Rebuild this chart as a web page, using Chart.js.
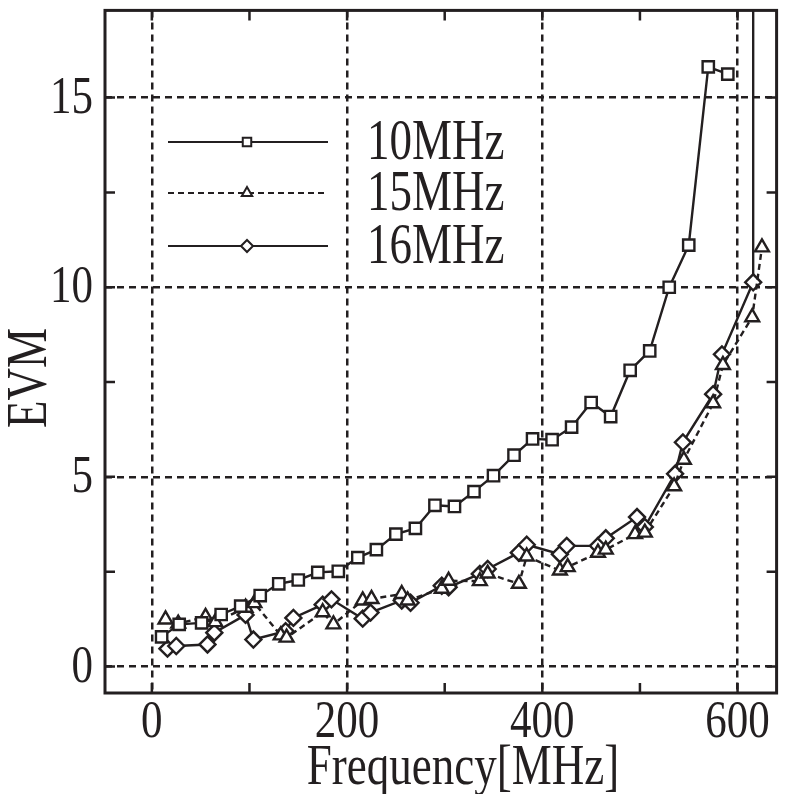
<!DOCTYPE html>
<html>
<head>
<meta charset="utf-8">
<script src="https://cdn.jsdelivr.net/npm/chart.js@4"></script>
<style>
  html, body { margin: 0; padding: 0; background: #fff; }
  #wrap { width: 787px; height: 794px; }
</style>
</head>
<body>
<div id="wrap"><canvas id="chart" width="787" height="794"></canvas></div>
<script>
// ── Data ────────────────────────────────────────────────────────────────────
const freq10 = [10, 28, 51, 71, 91, 111, 130, 150, 170, 191, 211, 230, 250, 270, 290,
                310, 330, 350, 371, 390, 410, 430, 450, 470, 490, 510, 530, 550, 570, 590];
const evm10  = [0.78, 1.11, 1.15, 1.37, 1.59, 1.87, 2.18, 2.28, 2.48, 2.51, 2.87, 3.08, 3.49, 3.64, 4.25,
                4.22, 4.61, 5.03, 5.57, 6.00, 5.98, 6.31, 6.96, 6.59, 7.81, 8.32, 10.0, 11.11, 15.81, 15.62];

const freq15 = [14, 27, 55, 65, 96, 105, 132, 138, 175, 186, 216, 225, 256, 262, 297, 304,
                336, 344, 376, 384, 418, 426, 457, 465, 495, 505, 535, 545, 575, 585, 615, 625];
const evm15  = [1.24, 1.13, 1.31, 1.17, 1.55, 1.67, 0.82, 0.76, 1.43, 1.11, 1.74, 1.78, 1.91, 1.74, 2.05, 2.26,
                2.25, 2.45, 2.18, 2.90, 2.53, 2.62, 3.00, 3.08, 3.49, 3.53, 4.75, 5.45, 6.94, 7.95, 9.21, 11.05];

// last 16MHz point runs off the top of the plot
const freq16 = [16, 25, 57, 64, 96, 104, 137, 145, 175, 184, 216, 224, 256, 265, 297, 304,
                336, 344, 376, 384, 418, 425, 457, 465, 497, 505, 536, 544, 575, 584, 616, 616];
const evm16  = [0.47, 0.54, 0.58, 0.89, 1.36, 0.71, 0.93, 1.28, 1.63, 1.77, 1.26, 1.42, 1.74, 1.68, 2.13, 2.09,
                2.44, 2.57, 3.00, 3.21, 2.96, 3.18, 3.18, 3.38, 3.94, 3.68, 5.08, 5.91, 7.18, 8.23, 10.13, 30];

const seriesNames = ['10MHz', '15MHz', '16MHz'];
const xTitle = 'Frequency[MHz]';
const yTitle = 'EVM';
const xMajor = 200, yMajor = 5;

const INK = '#231f20';
const FONT = '"Liberation Serif", "Times New Roman", serif';
const STRETCH = 1.25;   // the figure's lettering is taller than it is wide

function pts(xs, ys) { return xs.map((x, i) => ({ x, y: ys[i] })); }

function series(label, data, style, dash) {
  return {
    label, data,
    borderColor: INK, borderWidth: 2.4, borderDash: dash,
    pointStyle: style, pointRadius: 8, pointBorderWidth: 2.4,
    pointBackgroundColor: '#fff', pointBorderColor: INK,
    tension: 0, clip: 0,
  };
}

function tallText(ctx, txt, x, y, align, size, rot) {
  ctx.save();
  ctx.translate(x, y);
  if (rot) ctx.rotate(rot);
  ctx.scale(1, STRETCH);
  ctx.font = size + 'px ' + FONT;
  ctx.textAlign = align;
  ctx.textBaseline = 'middle';
  ctx.fillText(txt, 0, 0);
  ctx.restore();
}

// ── Frame, inward ticks, labels and legend ──────────────────────────────────
const framePlugin = {
  id: 'frame',
  afterDraw(chart) {
    const { ctx, chartArea: a, scales: { x, y } } = chart;
    ctx.save();
    ctx.strokeStyle = INK;
    ctx.fillStyle = INK;
    ctx.lineWidth = 2.5;
    ctx.setLineDash([]);
    ctx.beginPath();
    x.ticks.forEach(t => {
      const px = x.getPixelForValue(t.value);
      ctx.moveTo(px, a.bottom); ctx.lineTo(px, a.bottom - 10);
      ctx.moveTo(px, a.top); ctx.lineTo(px, a.top + 10);
    });
    y.ticks.forEach(t => {
      const py = y.getPixelForValue(t.value);
      ctx.moveTo(a.left, py); ctx.lineTo(a.left + 10, py);
      ctx.moveTo(a.right, py); ctx.lineTo(a.right - 10, py);
    });
    ctx.stroke();
    ctx.lineWidth = 3;
    ctx.strokeRect(a.left, a.top, a.right - a.left, a.bottom - a.top);

    // tick labels
    x.ticks.forEach(t => {
      if (t.value % xMajor !== 0) return;
      tallText(ctx, String(t.value), x.getPixelForValue(t.value), a.bottom + 30, 'center', 43);
    });
    y.ticks.forEach(t => {
      if (t.value % yMajor !== 0) return;
      tallText(ctx, String(t.value), 93, y.getPixelForValue(t.value) + 1, 'right', 43);
    });

    // axis titles
    tallText(ctx, xTitle, 463, 769, 'center', 45);
    tallText(ctx, yTitle, 31, 378, 'center', 45, -Math.PI / 2);

    // legend
    const rowsY = [142, 193, 246];
    chart.data.datasets.forEach((ds, i) => {
      const yy = rowsY[i];
      ctx.lineWidth = 2;
      ctx.setLineDash(ds.borderDash || []);
      ctx.beginPath(); ctx.moveTo(168, yy); ctx.lineTo(328, yy); ctx.stroke();
      ctx.setLineDash([]);
      ctx.fillStyle = '#fff';
      Chart.helpers.drawPoint(ctx, { pointStyle: ds.pointStyle, radius: 6, borderWidth: 2 }, 247, yy);
      ctx.fillStyle = INK;
      tallText(ctx, ds.label, 367, yy + 2, 'left', 45);
    });
    ctx.restore();
  }
};

new Chart(document.getElementById('chart'), {
  type: 'line',
  data: {
    datasets: [
      series(seriesNames[0], pts(freq10, evm10), 'rect', []),
      series(seriesNames[1], pts(freq15, evm15), 'triangle', [6, 4]),
      series(seriesNames[2], pts(freq16, evm16), 'rectRot', []),
    ]
  },
  options: {
    responsive: false,
    animation: false,
    layout: { padding: { top: 7, right: 1, left: 0, bottom: 0 } },
    plugins: { legend: { display: false }, tooltip: { enabled: false } },
    scales: {
      x: {
        type: 'linear', min: -48, max: 640,
        afterFit: s => { s.height = 101; s.paddingLeft = 0; s.paddingRight = 0; },
        ticks: { stepSize: 100, includeBounds: false, autoSkip: false, display: false },
        grid: {
          drawTicks: false,
          color: c => (c.tick && c.tick.value % xMajor === 0 ? INK : 'rgba(0,0,0,0)'),
          lineWidth: 2.5,
        },
        border: { display: false, dash: [7, 5] },
      },
      y: {
        type: 'linear', min: -0.7, max: 17.3,
        afterFit: s => { s.width = 105; s.paddingTop = 0; s.paddingBottom = 0; },
        ticks: { stepSize: 2.5, includeBounds: false, autoSkip: false, display: false },
        grid: {
          drawTicks: false,
          color: c => (c.tick && c.tick.value % yMajor === 0 ? INK : 'rgba(0,0,0,0)'),
          lineWidth: 2.5,
        },
        border: { display: false, dash: [7, 5] },
      },
    },
  },
  plugins: [framePlugin],
});
</script>
</body>
</html>
